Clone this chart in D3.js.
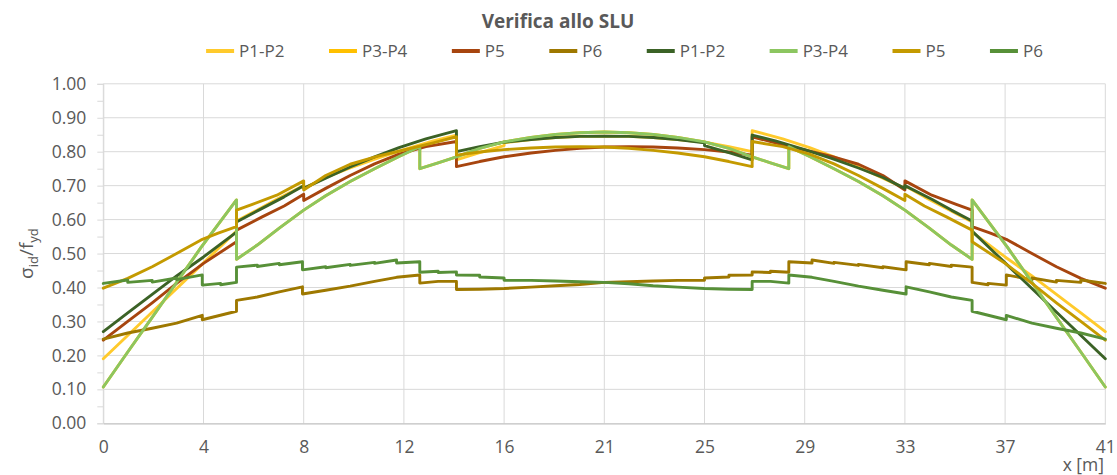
<!DOCTYPE html>
<html>
<head>
<meta charset="utf-8">
<script src="https://cdn.jsdelivr.net/npm/d3@7"></script>
<style>
  html, body { margin: 0; padding: 0; background: #fff; }
  svg { display: block; font-family: "Open Sans", "Noto Sans", sans-serif; }
</style>
</head>
<body>
<svg id="chart" width="1117" height="475"></svg>
<script>
// ---- data -------------------------------------------------------------
const seriesNames  = ["P1-P2", "P3-P4", "P5", "P6", "P1-P2", "P3-P4", "P5", "P6"];
const seriesColors = ["#FFCA2C", "#FFC000", "#A7450F", "#9E7800",
                      "#3B6226", "#8CC660", "#C49A00", "#579038"];

const xTickValues = [0, 4.1, 8.2, 12.3, 16.4, 20.5, 24.6, 28.7, 32.8, 36.9, 41];
const xTickLabels = ["0", "4", "8", "12", "16", "21", "25", "29", "33", "37", "41"];
const yTickValues = [0, 0.1, 0.2, 0.3, 0.4, 0.5, 0.6, 0.7, 0.8, 0.9, 1.0];
const yMinorValues = [0.05, 0.15, 0.25, 0.35, 0.45, 0.55, 0.65, 0.75, 0.85, 0.95];

// each series: [x (m), sigma_id / f_yd]; repeated x = step in the diagram
const p12A = [
  [0,.190],[0.9,.252],[1.8,.314],[2.8,.383],[3.8,.452],[4.7,.514],[5.45,.566],[5.45,.596],
  [6.3,.628],[7.1,.660],[8.2,.700],[8.2,.692],[9.1,.724],[10.1,.752],[11.2,.780],[12.3,.806],
  [13.5,.832],[14.45,.849],[14.45,.776],[15.4,.797],[16.4,.818],[16.4,.826],[17.5,.836],
  [18.5,.842],[19.5,.845],[20.5,.846],[21.5,.845],[22.5,.842],[23.5,.836],[24.6,.828],
  [25.6,.815],[26.55,.800],[26.55,.862],[27.8,.838],[28.9,.812],[29.9,.785],[30.9,.755],
  [31.9,.722],[32.8,.692],[32.8,.700],[33.6,.667],[34.5,.633],[35.55,.593],[35.55,.563],
  [36.9,.490],[38,.434],[39,.380],[40,.325],[41,.270]
];
const p34A = [
  [0,.107],[1,.210],[2,.312],[3,.415],[4,.518],[5.45,.658],[5.45,.483],[6.3,.525],[7.2,.575],
  [8.2,.628],[9.1,.670],[10.1,.712],[11.1,.750],[12.1,.786],[12.95,.815],[12.95,.750],
  [13.7,.767],[14.45,.785],[15.4,.810],[16.4,.829],[17.5,.842],[18.5,.851],[19.5,.856],
  [20.5,.858],[21.5,.856],[22.5,.851],[23.5,.842],[24.6,.829],[25.6,.810],[26.55,.785],
  [27.3,.767],[28.05,.750],[28.05,.815],[28.9,.786],[29.9,.750],[30.9,.712],[31.9,.670],
  [32.8,.628],[33.8,.575],[34.7,.525],[35.55,.483],[35.55,.658],[37,.518],[38,.415],
  [39,.312],[40,.210],[41,.107]
];
const p5A = [
  [0,.245],[1,.300],[2,.355],[3,.412],[4.1,.471],[5.45,.535],[5.45,.569],[6.5,.608],
  [7.4,.640],[8.2,.675],[8.2,.656],[9.1,.692],[10.1,.730],[11.1,.764],[12.1,.793],
  [13.2,.815],[14.45,.830],[14.45,.756],[15.4,.771],[16.4,.785],[17.5,.796],[18.5,.804],
  [19.5,.810],[20.5,.814],[21.5,.815],[22.5,.814],[23.5,.811],[24.6,.806],[25.6,.799],
  [26.55,.790],[26.55,.844],[27.5,.826],[28.7,.805],[29.8,.786],[30.9,.763],[31.9,.730],
  [32.8,.687],[32.8,.714],[33.9,.672],[34.9,.645],[35.55,.628],[35.55,.579],[36.3,.560],
  [37,.540],[38,.500],[39,.461],[40,.427],[41,.398]
];
const p6A = [
  [0,.248],[1,.266],[2,.280],[3,.295],[4.05,.318],[4.05,.305],[5.45,.330],[5.45,.362],
  [6.3,.372],[7.2,.387],[8.15,.402],[8.15,.381],[9.1,.392],[10.1,.404],[11.1,.418],
  [12,.430],[12.95,.437],[12.95,.413],[13.7,.418],[14.45,.418],[14.45,.394],[15.4,.395],
  [16.4,.397],[17.5,.401],[18.5,.405],[19.5,.409],[20.5,.415],[21.5,.417],[22.5,.419],
  [23.5,.421],[24.6,.421],[24.6,.428],[25.6,.431],[25.6,.436],[26.55,.437],[26.55,.446],
  [27.3,.444],[27.3,.448],[28.05,.445],[28.05,.476],[29,.472],[29,.481],[29.9,.471],
  [29.9,.474],[30.9,.465],[30.9,.468],[31.9,.458],[31.9,.461],[32.85,.452],[32.85,.476],
  [33.8,.467],[33.8,.471],[34.7,.462],[34.7,.466],[35.55,.460],[35.55,.415],[36.2,.408],
  [36.2,.412],[36.95,.407],[36.95,.437],[38,.423],[38,.428],[39,.416],[39,.421],
  [40,.415],[40,.422],[41,.412]
];
const p12B = [
  [0,.270],[1,.325],[2,.380],[3,.434],[4.1,.490],[5.45,.563],[5.45,.593],[6.5,.633],
  [7.4,.667],[8.2,.700],[8.2,.692],[9.1,.722],[10.1,.755],[11.1,.785],[12.1,.812],
  [13.2,.838],[14.45,.862],[14.45,.800],[15.4,.815],[16.4,.828],[17.5,.836],[18.5,.842],
  [19.5,.845],[20.5,.846],[21.5,.845],[22.5,.842],[23.5,.836],[24.6,.826],[24.6,.818],
  [25.6,.797],[26.55,.776],[26.55,.849],[27.5,.832],[28.7,.806],[29.8,.780],[30.9,.752],
  [31.9,.724],[32.8,.692],[32.8,.700],[33.9,.660],[34.7,.628],[35.55,.596],[35.55,.566],
  [36.3,.514],[37.2,.452],[38.2,.383],[39.2,.314],[40.1,.252],[41,.190]
];
const p34B = [
  [0,.107],[1,.210],[2,.312],[3,.415],[4,.518],[5.45,.658],[5.45,.483],[6.3,.525],[7.2,.575],
  [8.2,.628],[9.1,.670],[10.1,.712],[11.1,.750],[12.1,.786],[12.95,.815],[12.95,.750],
  [13.7,.767],[14.45,.785],[15.4,.810],[16.4,.829],[17.5,.842],[18.5,.851],[19.5,.856],
  [20.5,.858],[21.5,.856],[22.5,.851],[23.5,.842],[24.6,.829],[25.6,.810],[26.55,.785],
  [27.3,.767],[28.05,.750],[28.05,.815],[28.9,.786],[29.9,.750],[30.9,.712],[31.9,.670],
  [32.8,.628],[33.8,.575],[34.7,.525],[35.55,.483],[35.55,.658],[37,.518],[38,.415],
  [39,.312],[40,.210],[41,.107]
];
const p5B = [
  [0,.398],[1,.427],[2,.461],[3,.500],[4,.540],[4.7,.560],[5.45,.579],[5.45,.628],
  [6.1,.645],[7.1,.672],[8.2,.714],[8.2,.687],[9.1,.730],[10.1,.763],[11.2,.786],
  [12.3,.805],[13.5,.826],[14.45,.844],[14.45,.790],[15.4,.799],[16.4,.806],[17.5,.811],
  [18.5,.814],[19.5,.815],[20.5,.814],[21.5,.810],[22.5,.804],[23.5,.796],[24.6,.785],
  [25.6,.771],[26.55,.756],[26.55,.830],[27.8,.815],[28.9,.793],[29.9,.764],[30.9,.730],
  [31.9,.692],[32.8,.656],[32.8,.675],[33.6,.640],[34.5,.608],[35.55,.569],[35.55,.535],
  [36.9,.471],[38,.412],[39,.355],[40,.300],[41,.245]
];
const p6B = [
  [0,.412],[1,.422],[1,.415],[2,.421],[2,.416],[3,.428],[3,.423],[4.05,.437],[4.05,.407],
  [4.8,.412],[4.8,.408],[5.45,.415],[5.45,.460],[6.3,.466],[6.3,.462],[7.2,.471],[7.2,.467],
  [8.15,.476],[8.15,.452],[9.1,.461],[9.1,.458],[10.1,.468],[10.1,.465],[11.1,.474],
  [11.1,.471],[12,.481],[12,.472],[12.95,.476],[12.95,.445],[13.7,.448],[13.7,.444],
  [14.45,.446],[14.45,.437],[15.4,.436],[15.4,.431],[16.4,.428],[16.4,.421],[17.5,.421],
  [18.5,.419],[19.5,.417],[20.5,.415],[21.5,.411],[22.5,.405],[23.5,.401],[24.6,.397],
  [25.6,.395],[26.55,.394],[26.55,.418],[27.3,.418],[28.05,.413],[28.05,.437],[29,.430],
  [29.9,.418],[30.9,.404],[31.9,.392],[32.85,.381],[32.85,.402],[33.8,.387],[34.7,.372],
  [35.55,.362],[35.55,.330],[36.95,.305],[36.95,.318],[38,.295],[39,.280],[40,.266],[41,.248]
];

const seriesData = [p12A, p34A, p5A, p6A, p12B, p34B, p5B, p6B];

// ---- layout -------------------------------------------------------------
const svg = d3.select("#chart");
const plot = { left: 103.3, right: 1105.3, top: 83.8, bottom: 423.3 };
const textColor = "#595959";
const gridColor = "#d9d9d9";

const x = d3.scaleLinear().domain([0, 41]).range([plot.left, plot.right]);
const y = d3.scaleLinear().domain([0, 1]).range([plot.bottom, plot.top]);

// horizontal gridlines
svg.append("g").selectAll("line")
  .data(yTickValues.slice(1))
  .join("line")
  .attr("x1", plot.left).attr("x2", plot.right)
  .attr("y1", d => y(d)).attr("y2", d => y(d))
  .attr("stroke", gridColor).attr("stroke-width", 1);

// vertical gridlines
svg.append("g").selectAll("line")
  .data(xTickValues)
  .join("line")
  .attr("x1", d => x(d)).attr("x2", d => x(d))
  .attr("y1", plot.top).attr("y2", plot.bottom)
  .attr("stroke", gridColor).attr("stroke-width", 1);

// y axis: ticks every 0.05, labels every 0.10
const yAll = yTickValues.concat(yMinorValues).sort((a, b) => a - b);
const yAxis = d3.axisLeft(y)
  .tickValues(yAll)
  .tickSize(6)
  .tickPadding(11)
  .tickFormat(d => yTickValues.some(v => Math.abs(v - d) < 1e-9) ? d3.format(".2f")(d) : "");
const gy = svg.append("g").attr("transform", `translate(${plot.left},0)`).call(yAxis);
gy.select(".domain").attr("stroke", gridColor);
gy.selectAll(".tick line").attr("stroke", gridColor);
gy.selectAll(".tick text")
  .attr("fill", textColor)
  .style("font-size", "17.5px")
  .style("font-family", "'Open Sans', sans-serif");

// x axis
const xAxis = d3.axisBottom(x)
  .tickValues(xTickValues)
  .tickSize(0)
  .tickPadding(17)
  .tickFormat((d, i) => xTickLabels[i]);
const gx = svg.append("g").attr("transform", `translate(0,${plot.bottom})`).call(xAxis);
gx.select(".domain").attr("stroke", "#bfbfbf").attr("stroke-width", 1.2);
gx.selectAll(".tick text")
  .attr("fill", textColor)
  .style("font-size", "17.5px")
  .style("font-family", "'Open Sans', sans-serif");

// series lines
const line = d3.line().x(d => x(d[0])).y(d => y(d[1]));
svg.append("g").selectAll("path")
  .data(seriesData)
  .join("path")
  .attr("d", line)
  .attr("fill", "none")
  .attr("stroke", (d, i) => seriesColors[i])
  .attr("stroke-width", 2.9)
  .attr("stroke-linejoin", "round")
  .attr("stroke-linecap", "round");

// title
svg.append("text")
  .attr("x", 558).attr("y", 28)
  .attr("text-anchor", "middle")
  .attr("fill", textColor)
  .style("font-size", "19px")
  .style("font-weight", "bold")
  .text("Verifica allo SLU");

// legend
const legend = svg.append("g");
const swatchW = 28, swatchGap = 5, itemGap = 44.5, legendY = 51;
let cursor = 0;
seriesNames.forEach((name, i) => {
  const g = legend.append("g");
  g.append("line")
    .attr("x1", 0).attr("x2", swatchW)
    .attr("y1", 0).attr("y2", 0)
    .attr("stroke", seriesColors[i]).attr("stroke-width", 4);
  const t = g.append("text")
    .attr("x", swatchW + swatchGap).attr("y", 0)
    .attr("dy", "0.35em")
    .attr("fill", textColor)
    .style("font-size", "17px")
    .text(name);
  const w = swatchW + swatchGap + t.node().getComputedTextLength();
  g.attr("transform", `translate(${cursor},0)`);
  cursor += w + itemGap;
});
const legendWidth = cursor - itemGap;
legend.attr("transform", `translate(${624.5 - legendWidth / 2},${legendY})`);

// y axis title: sigma_id / f_yd
const yTitle = svg.append("text")
  .attr("transform", `translate(33,${(plot.top + plot.bottom) / 2}) rotate(-90)`)
  .attr("text-anchor", "middle")
  .attr("fill", textColor)
  .style("font-size", "19px");
yTitle.append("tspan").text("σ");
yTitle.append("tspan").attr("dy", 5).style("font-size", "13px").text("id");
yTitle.append("tspan").attr("dy", -5).text("/f");
yTitle.append("tspan").attr("dy", 5).style("font-size", "13px").text("yd");

// x axis title
svg.append("text")
  .attr("x", 1104).attr("y", 471)
  .attr("text-anchor", "end")
  .attr("fill", textColor)
  .style("font-size", "17.5px")
  .text("x [m]");
</script>
</body>
</html>
